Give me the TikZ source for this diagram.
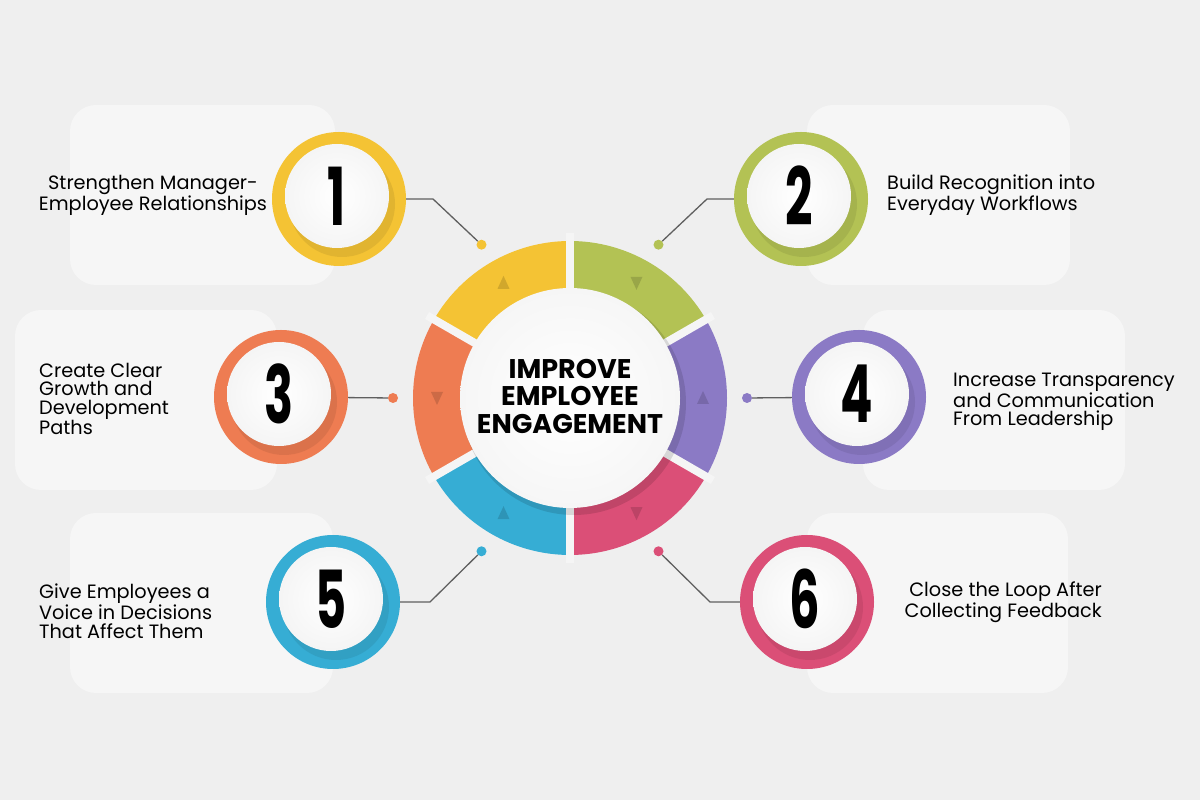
\documentclass[tikz,border=0pt]{standalone}
\usepackage{graphicx}
\usepackage{fontspec}
\setmainfont{Poppins}
\usetikzlibrary{calc}
\definecolor{cus-bg}{RGB}{239, 239, 239}
\definecolor{cus-card}{RGB}{246, 246, 246}
\definecolor{cus-gap}{RGB}{245, 245, 245}
\definecolor{cus-line}{RGB}{95, 95, 95}
\definecolor{cus-yellow}{RGB}{244, 195, 52}
\definecolor{cus-green}{RGB}{179, 194, 84}
\definecolor{cus-orange}{RGB}{238, 124, 82}
\definecolor{cus-purple}{RGB}{139, 122, 197}
\definecolor{cus-blue}{RGB}{54, 173, 212}
\definecolor{cus-pink}{RGB}{219, 79, 119}
\newcommand{\numball}[4]{
	\node [circle, minimum size=134pt, inner sep=0pt, fill=#3] (n#4) at (#1,#2) {};
	\fill [#3!75!black, opacity=.3] (#1+3,#2-5) circle (53pt);
	\shade [inner color=white, outer color=gray!8] (#1-2,#2+3) circle (52pt);
	\node [font=\bfseries\fontsize{80}{80}\selectfont, inner sep=0pt] (k#4) at (#1-2,#2+3) {\scalebox{.6}[1]{#4}};
}

\begin{document}
\begin{tikzpicture}[x=1pt, y=1pt,
	card/.style={fill=cus-card, rounded corners=26pt},
	conn/.style={draw=cus-line, line width=1.3pt},
	ringdot/.style={circle, fill=#1, minimum size=10pt, inner sep=0pt},
	txt/.style={font=\fontsize{19.3}{18.8}\selectfont, inner sep=0pt}]

\fill [cus-bg] (0,0) rectangle (1200,800);
\useasboundingbox (0,0) rectangle (1200,800);

% cards behind the texts
\foreach \xa/\ya/\xb/\yb in {70/515/335/695, 807/515/1070/695, 15/310/277/490, 863/310/1125/490, 70/107/333/287, 807/107/1068/287}{
	\fill [card] (\xa,\ya) rectangle (\xb,\yb);
}

% ring
\coordinate (c) at (570,402);
\foreach \a/\c/\s in {30/cus-green/-1, 90/cus-yellow/1, 150/cus-orange/-1, 210/cus-blue/1, 270/cus-pink/-1, 330/cus-purple/1}{
	\fill [\c] ($(c)+(\a:157pt)$) arc [start angle=\a, end angle=\a+60, radius=157pt] -- ($(c)+(\a+60:100pt)$) arc [start angle=\a+60, end angle=\a, radius=100pt] -- cycle;
	\fill [\c!60!black, opacity=.35] ($(c)+(\a+30:133pt)$) ++(0,7*\s) -- ++(-6,-13*\s) -- ++(12,0) -- cycle;
}
\foreach \a in {30,90,...,330}{
	\draw [cus-gap, line width=8pt] ($(c)+(\a:95pt)$) -- ($(c)+(\a:165pt)$);
}
\fill [black, opacity=.12] ($(c)+(4,-5)$) circle (112pt);
\shade [inner color=white, outer color=gray!7] (c) circle (110pt);
\node [font=\bfseries\fontsize{27}{27.5}\selectfont, align=center, inner sep=0pt] (title) at (570,404) {IMPROVE\\EMPLOYEE\\ENGAGEMENT};

% numbered balls
\numball{339}{601}{cus-yellow}{1}
\numball{801}{601}{cus-green}{2}
\numball{281}{403}{cus-orange}{3}
\numball{859}{403}{cus-purple}{4}
\numball{333}{198}{cus-blue}{5}
\numball{807}{198}{cus-pink}{6}

\foreach \i/\a/\c in {1/120/cus-yellow, 2/60/cus-green, 3/180/cus-orange, 4/0/cus-purple, 5/240/cus-blue, 6/300/cus-pink}{
	\node [ringdot=\c] (d\i) at ($(c)+(\a:177pt)$) {};
}
\coordinate (e1) at (433,601);
\coordinate (e2) at (707,601);
\coordinate (e5) at (430,198);
\coordinate (e6) at (710,198);
\draw [conn] (n1) -- (e1) -- (d1);
\draw [conn] (n2) -- (e2) -- (d2);
\draw [conn] (n3) -- (d3);
\draw [conn] (n4) -- (d4);
\draw [conn] (n5) -- (e5) -- (d5);
\draw [conn] (n6) -- (e6) -- (d6);

\node [txt, align=center] (t1) at (153,605) {Strengthen Manager-\\Employee Relationships};
\node [txt, align=left, anchor=west] (t2) at (887,605) {Build Recognition into\\Everyday Workflows};
\node [txt, align=left, anchor=west] (t3) at (39,401) {Create Clear\\Growth and\\Development\\Paths};
\node [txt, align=left, anchor=west] (t4) at (953,398) {Increase Transparency\\and Communication\\From Leadership};
\node [txt, align=left, anchor=west] (t5) at (39,189) {Give Employees a\\Voice in Decisions\\That Affect Them};
\node [txt, align=right, anchor=east] (t6) at (1102,198) {Close the Loop After\\Collecting Feedback};
\end{tikzpicture}
\end{document}
